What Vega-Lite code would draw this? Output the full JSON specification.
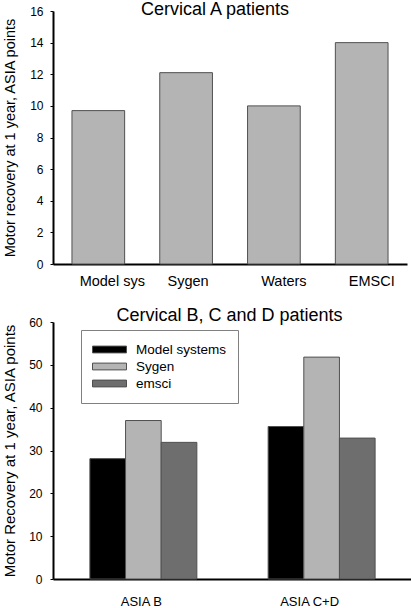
{
  "$schema": "https://vega.github.io/schema/vega-lite/v6.json",
  "padding": {"left": 2, "top": 1, "right": 0, "bottom": 0},
  "spacing": 18,
  "resolve": {"legend": {"color": "independent"}, "scale": {"color": "independent"}},
  "config": {
    "view": {"stroke": null},
    "font": "Liberation Sans",
    "axis": {"grid": false, "domainColor": "#000000", "domainWidth": 2, "labelColor": "#000000", "titleColor": "#000000", "titleFontWeight": "normal", "tickColor": "#000000", "labelFont": "Liberation Sans", "titleFont": "Liberation Sans"},
    "title": {"font": "Liberation Sans", "fontWeight": "normal", "color": "#000000"}
  },
  "vconcat": [
    {
      "width": 354,
      "height": 253,
      "title": {"text": "Cervical A patients", "fontSize": 18, "baseline": "alphabetic", "offset": -28, "dx": -15},
      "data": {"values": [
        {"system": "Model sys", "value": 9.7},
        {"system": "Sygen", "value": 12.1},
        {"system": "Waters", "value": 10.0},
        {"system": "EMSCI", "value": 14.0}
      ]},
      "mark": {"type": "bar", "fill": "#b4b4b4", "stroke": "#505050", "strokeWidth": 1},
      "encoding": {
        "x": {"field": "system", "type": "nominal", "sort": null,
          "scale": {"paddingInner": 0.4, "paddingOuter": 0.216},
          "axis": {"title": null, "labelAngle": 0, "labelFontSize": 14.5, "ticks": false, "labelPadding": 10,
            "labelOffset": {"condition": [
              {"test": "datum.value == 'Model sys'", "value": 14},
              {"test": "datum.value == 'Sygen'", "value": 2}
            ], "value": 10}}},
        "y": {"field": "value", "type": "quantitative",
          "scale": {"domain": [0, 16]},
          "axis": {"title": "Motor recovery at 1 year, ASIA points", "titleFontSize": 14.5, "labelFontSize": 12, "tickSize": 3, "labelPadding": 7, "titlePadding": 12, "values": [0, 2, 4, 6, 8, 10, 12, 14, 16]}}
      }
    },
    {
      "width": 359,
      "height": 257,
      "title": {"text": "Cervical B, C and D patients", "fontSize": 18, "baseline": "alphabetic", "offset": -22.5, "dx": -3},
      "data": {"values": [
        {"group": "ASIA B", "series": "Model systems", "value": 28.1},
        {"group": "ASIA B", "series": "Sygen", "value": 37.0},
        {"group": "ASIA B", "series": "emsci", "value": 31.9},
        {"group": "ASIA C+D", "series": "Model systems", "value": 35.6},
        {"group": "ASIA C+D", "series": "Sygen", "value": 51.8},
        {"group": "ASIA C+D", "series": "emsci", "value": 32.9}
      ]},
      "mark": {"type": "bar", "stroke": "#505050", "strokeWidth": 1},
      "encoding": {
        "x": {"field": "group", "type": "nominal", "sort": null,
          "scale": {"paddingInner": 0.4, "paddingOuter": 0.207},
          "axis": {"title": null, "labelAngle": 0, "labelFontSize": 13, "ticks": false, "labelPadding": 16,
            "labelOffset": {"condition": {"test": "datum.value == 'ASIA C+D'", "value": -12}, "value": -2}}},
        "xOffset": {"field": "series", "type": "nominal", "sort": ["Model systems", "Sygen", "emsci"], "scale": {"paddingInner": 0, "paddingOuter": 0}},
        "y": {"field": "value", "type": "quantitative",
          "scale": {"domain": [0, 60]},
          "axis": {"title": "Motor Recovery at 1 year, ASIA points", "titleFontSize": 15, "labelFontSize": 12, "tickSize": 3, "labelPadding": 8, "titlePadding": 11, "values": [0, 10, 20, 30, 40, 50, 60]}},
        "color": {"field": "series", "type": "nominal",
          "scale": {"domain": ["Model systems", "Sygen", "emsci"], "range": ["#000000", "#b4b4b4", "#6e6e6e"]},
          "legend": {"title": null, "orient": "none", "legendX": 28, "legendY": 8, "fillColor": "#ffffff", "strokeColor": "#808080", "padding": 11, "clipHeight": 17, "rowPadding": 0, "symbolType": "M-1,-0.2H1V0.2H-1Z", "symbolSize": 1156, "symbolStrokeColor": "#505050", "symbolStrokeWidth": 1, "symbolOpacity": 1, "labelFontSize": 13.5, "labelOffset": 9, "labelColor": "#000000", "labelFont": "Liberation Sans"}}
      }
    }
  ]
}
